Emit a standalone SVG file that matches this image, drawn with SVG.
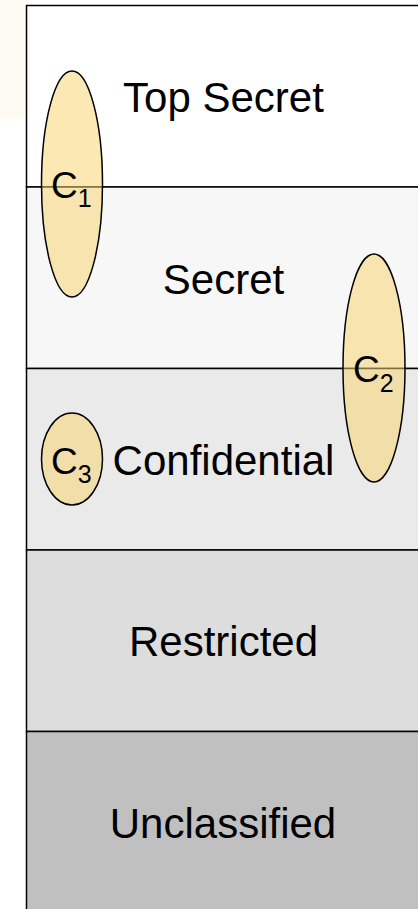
<svg xmlns="http://www.w3.org/2000/svg" width="418" height="909" viewBox="0 0 418 909">
<style>
.layer{stroke:#000;stroke-width:1.5}
.lbl{font-family:"Liberation Sans",Arial,sans-serif;font-size:42px;fill:#000;text-anchor:middle}
.cl{font-family:"Liberation Sans",Arial,sans-serif;font-size:37px;fill:#000}
.sub{font-size:25px}
.ell{fill:#f7d36b;fill-opacity:0.52;stroke:#000;stroke-width:1.5}
</style>
<rect x="0" y="0" width="418" height="909" fill="#fff"/>
<rect x="0" y="0" width="24" height="119" fill="#fefbf3"/>
<g id="layers">
<g id="top-secret"><rect class="layer" x="26.5" y="5.5" width="400" height="181.5" fill="#fff"/><text class="lbl" x="223.5" y="112">Top Secret</text></g>
<g id="secret"><rect class="layer" x="26.5" y="187" width="400" height="181.5" fill="#f7f7f7"/><text class="lbl" x="223.5" y="294">Secret</text></g>
<g id="confidential"><rect class="layer" x="26.5" y="368.5" width="400" height="181.5" fill="#eaeaea"/><text class="lbl" x="223.5" y="475">Confidential</text></g>
<g id="restricted"><rect class="layer" x="26.5" y="550" width="400" height="181.5" fill="#dddddd"/><text class="lbl" x="223.5" y="656">Restricted</text></g>
<g id="unclassified"><rect class="layer" x="26.5" y="731.5" width="400" height="190" fill="#c0c0c0"/><text class="lbl" x="223" y="838">Unclassified</text></g>
</g>
<g id="c1"><ellipse class="ell" cx="72" cy="184" rx="30.5" ry="113"/><text class="cl" x="51" y="197.5">C<tspan class="sub" dy="9.5">1</tspan></text></g>
<g id="c2"><ellipse class="ell" cx="374" cy="368" rx="31" ry="114"/><text class="cl" x="353" y="382">C<tspan class="sub" dy="9.5">2</tspan></text></g>
<g id="c3"><ellipse class="ell" cx="72" cy="459" rx="30.5" ry="46"/><text class="cl" x="51" y="474">C<tspan class="sub" dy="9">3</tspan></text></g>
</svg>
